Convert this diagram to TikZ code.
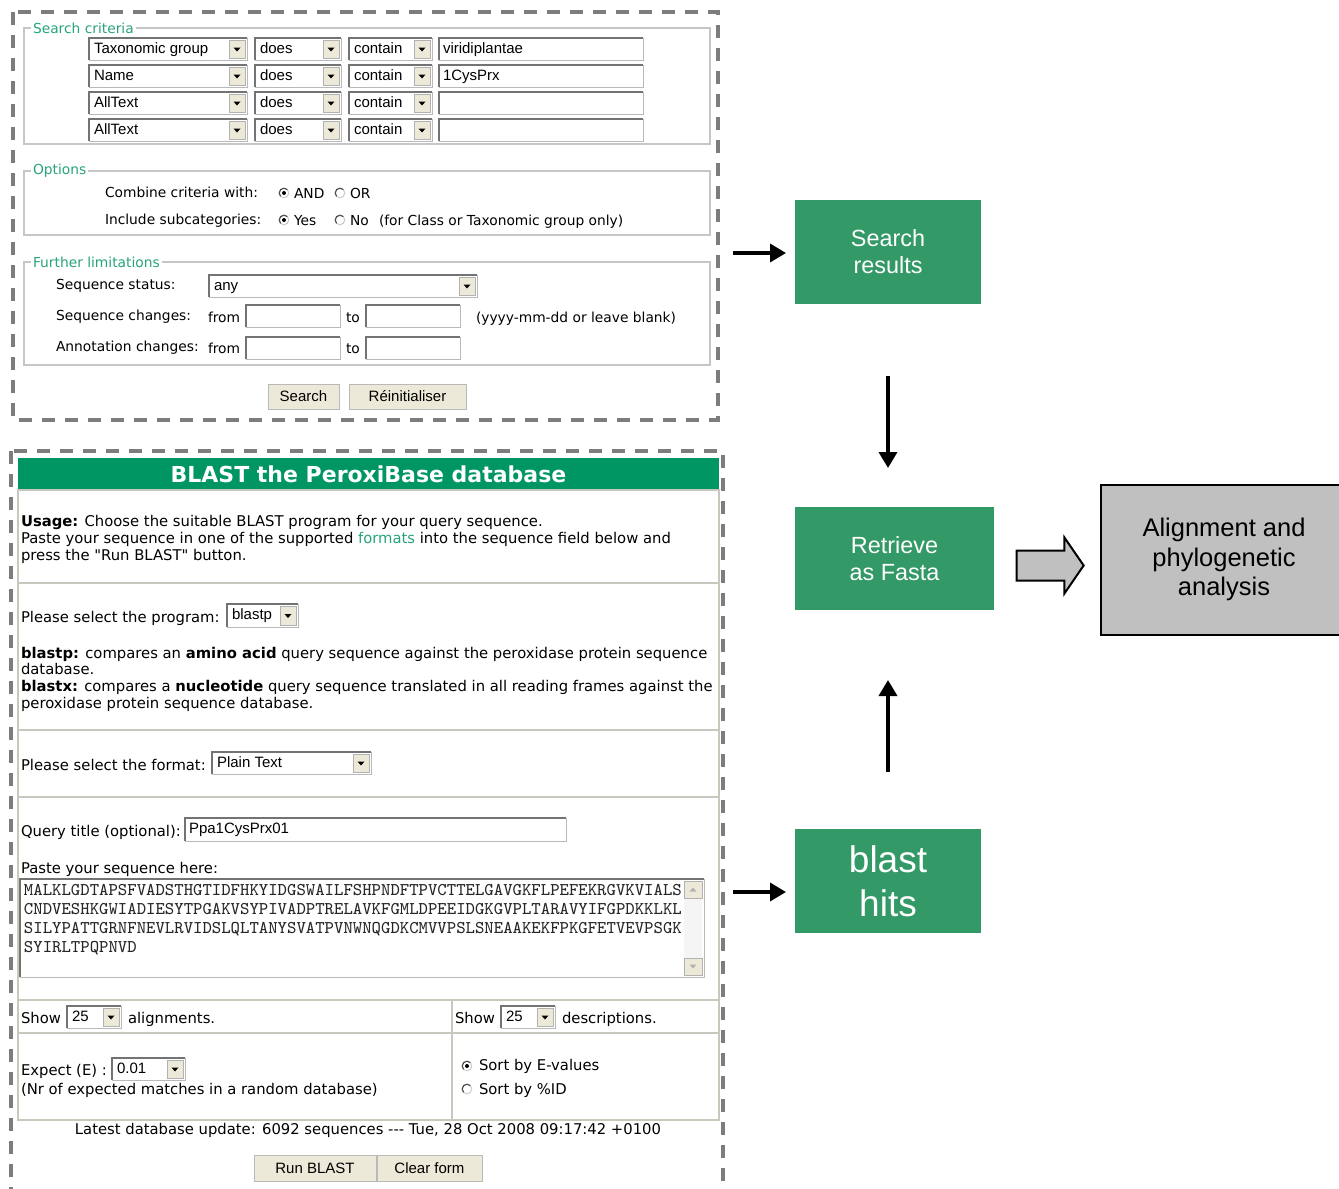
\documentclass[tikz,border=0pt]{standalone}
\usepackage{fontspec}
\setmainfont{Liberation Sans}
\newfontfamily\tahoma{DejaVu Sans}
\usetikzlibrary{arrows.meta,shapes.arrows}
\definecolor{boxgreen}{RGB}{51,153,102}
\definecolor{headgreen}{RGB}{0,150,100}
\definecolor{linkgreen}{RGB}{40,165,120}
\definecolor{dashgray}{RGB}{125,125,125}
\definecolor{framegray}{RGB}{200,200,190}
\definecolor{btnface}{RGB}{236,233,216}
\definecolor{alngray}{RGB}{192,192,192}

\begin{document}
\begin{tikzpicture}[x=0.5pt, y=-0.5pt,
    every node/.style={inner sep=0pt, outer sep=0pt},
    panel/.style={draw=dashgray, line width=2pt, dash pattern=on 6.5pt off 5pt},
    fieldset/.style={draw=gray!45, line width=0.7pt},
    legend/.style={anchor=west, fill=white, inner xsep=1pt, text=linkgreen, font=\tahoma\fontsize{6.9}{8}\selectfont},
    lbl/.style={anchor=west, text height=5.2pt, text depth=1.4pt, font=\tahoma\fontsize{6.9}{8}\selectfont},
    lblb/.style={lbl, text height=5.5pt, text depth=1.5pt, font=\tahoma\fontsize{7.4}{8.5}\selectfont},
    para/.style={anchor=north west, align=left},
    ddtext/.style={anchor=west, text height=5.5pt, text depth=1.5pt, font=\fontsize{7.5}{9}\selectfont},
    fieldbox/.style={draw=gray!55, fill=white, line width=0.5pt},
    inset/.style={draw=gray!90!black, line width=0.6pt},
    ddbtn/.style={draw=gray!60, fill=btnface, line width=0.5pt},
    formbtn/.style={draw=gray!55, fill=btnface, minimum height=12.5pt, font=\fontsize{7.5}{9}\selectfont},
    formline/.style={draw=framegray, line width=1pt},
    flowbox/.style={fill=boxgreen, text=white, align=center, font=\fontsize{11.7}{13.5}\selectfont},
    thickarr/.style={line width=1.8pt, -{Triangle[length=8pt,width=9pt]}},
  ]
  \useasboundingbox (0,0) rectangle (1339,1189);

  % query form
  \draw[panel] (13,12) rectangle (718,420);
  \draw[fieldset] (24,28) rectangle (710,144);
  \draw[fieldset] (24,171) rectangle (710,235);
  \draw[fieldset] (24,262) rectangle (710,365);
  \node[legend] (lgcrit) at (31,28) {Search criteria};
  \node[legend] (lgopt) at (31,171) {Options};
  \node[legend] (lglim) at (31,262) {Further limitations};

  % drop-down lists (both forms)
  \foreach \xa/\ya/\xb/\yb/\t [count=\k] in {89/38/247/60/Taxonomic group, 255/38/341/60/does, 349/38/432/60/contain,
      89/65/247/87/Name, 255/65/341/87/does, 349/65/432/87/contain,
      89/92/247/114/AllText, 255/92/341/114/does, 349/92/432/114/contain,
      89/119/247/141/AllText, 255/119/341/141/does, 349/119/432/141/contain,
      209/275/477/297/any, 227/604/298/627/blastp, 212/752/371/774/Plain Text,
      67/1006/121/1028/25, 501/1006/555/1028/25, 112/1058/185/1080/0.01} {
    \draw[fieldbox] (\xa,\ya) rectangle (\xb,\yb);
    \draw[inset] (\xa,\yb) -- (\xa,\ya) -- (\xb,\ya);
    \draw[ddbtn] (\xb-18,\ya+2) rectangle (\xb-2,\yb-2);
    \fill ({\xb-13.5},{(\ya+\yb)/2-1.5}) -- ++(7,0) -- ++(-3.5,4) -- cycle;
    \node[ddtext] (dd\k) at (\xa+5,{(\ya+\yb)/2}) {\t};
  }

  % text fields
  \foreach \xa/\ya/\xb/\yb/\t [count=\k] in {439/38/643/60/viridiplantae, 439/65/643/87/1CysPrx,
      439/92/643/114/{}, 439/119/643/141/{}, 246/305/340/327/{}, 366/305/460/327/{},
      246/337/340/359/{}, 366/337/460/359/{}, 185/818/566/841/Ppa1CysPrx01} {
    \draw[fieldbox] (\xa,\ya) rectangle (\xb,\yb);
    \draw[inset] (\xa,\yb) -- (\xa,\ya) -- (\xb,\ya);
    \node[ddtext] (tf\k) at (\xa+4,{(\ya+\yb)/2}) {\t};
  }

  % radio buttons
  \foreach \x/\y/\on in {284/193/1, 340/193/0, 284/220/1, 340/220/0, 467/1066/1, 467/1089/0} {
    \fill[white] (\x,\y) circle (2.4pt);
    \draw[gray!40, line width=0.5pt] (\x,\y) ++(-135:2.4pt) arc[start angle=-135, end angle=45, radius=2.4pt];
    \draw[gray!60!black, line width=0.6pt] (\x,\y) ++(45:2.4pt) arc[start angle=45, end angle=225, radius=2.4pt];
    \ifnum\on=1 \fill (\x,\y) circle (1pt); \fi
  }

  \foreach \x/\y/\t [count=\k] in {105/194/Combine criteria with:, 294/195/AND, 350/195/OR,
      105/221/Include subcategories:, 294/222/Yes, 350/222/No, 379/222/{(for Class or Taxonomic group only)},
      56/286/Sequence status:, 56/317/Sequence changes:, 208/319/from, 346/319/to,
      476/319/{(yyyy-mm-dd or leave blank)}, 56/348/Annotation changes:, 208/350/from, 346/350/to}
    \node[lbl] (lb\k) at (\x,\y) {\t};

  \node[formbtn, minimum width=35.5pt] (bsearch) at (303.5,396.5) {Search};
  \node[formbtn, minimum width=58.5pt] (breset) at (407.5,396.5) {Réinitialiser};

  % BLAST form
  \draw[panel] (11,451) rectangle (723,1196);
  \node[fill=headgreen, minimum width=350.5pt, minimum height=16pt, text=white,
    font=\tahoma\bfseries\fontsize{11}{13}\selectfont] (head) at (368.5,474) {BLAST the PeroxiBase database};
  \draw[formline] (18,490) rectangle (719,1120);
  \foreach \y in {583,730,797,1000,1033} \draw[formline] (18,\y) -- (719,\y);
  \draw[formline] (452,1000) -- (452,1120);

  \node[para, font=\tahoma\fontsize{7.4}{8.5}\selectfont] (usage) at (21,515)
    {\textbf{Usage:} Choose the suitable BLAST program for your query sequence.\\
     Paste your sequence in one of the supported \textcolor{linkgreen}{formats} into the sequence field below and\\
     press the "Run BLAST" button.};
  \node[para, font=\tahoma\fontsize{7.4}{8.35}\selectfont] (progs) at (21,647)
    {\textbf{blastp:} compares an \textbf{amino acid} query sequence against the peroxidase protein sequence\\
     database.\\
     \textbf{blastx:} compares a \textbf{nucleotide} query sequence translated in all reading frames against the\\
     peroxidase protein sequence database.};

  \foreach \x/\y/\t [count=\k] in {21/618/Please select the program:, 21/766/Please select the format:,
      21/832/Query title (optional):, 21/869/Paste your sequence here:, 21/1019/Show, 128/1019/alignments.,
      455/1019/Show, 562/1019/descriptions., 21/1071/Expect (E) :,
      21/1090/{(Nr of expected matches in a random database)}, 479/1066/Sort by E-values, 479/1090/Sort by \%ID}
    \node[lblb] (lbb\k) at (\x,\y) {\t};

  % sequence box
  \draw[fieldbox] (20,879) rectangle (704,977);
  \draw[inset] (20,977) -- (20,879) -- (704,879);
  \fill[gray!8] (684,881) rectangle (702,975);
  \draw[ddbtn] (684,881) rectangle (702,898);
  \draw[ddbtn] (684,958) rectangle (702,975);
  \fill[gray!60] (689.5,891.5) -- (696.5,891.5) -- (693,887.5) -- cycle;
  \fill[gray!60] (689.5,964.5) -- (696.5,964.5) -- (693,968.5) -- cycle;
  \foreach \y/\s [count=\k] in {891/MALKLGDTAPSFVADSTHGTIDFHKYIDGSWAILFSHPNDFTPVCTTELGAVGKFLPEFEKRGVKVIALS,
      910/CNDVESHKGWIADIESYTPGAKVSYPIVADPTRELAVKFGMLDPEEIDGKGVPLTARAVYIFGPDKKLKL,
      929/SILYPATTGRNFNEVLRVIDSLQLTANYSVATPVNWNQGDKCMVVPSLSNEAAKEKFPKGFETVEVPSGK,
      948/SYIRLTPQPNVD}
    \node[anchor=west, text height=5.5pt, text depth=1.5pt, text=black!85, font=\ttfamily\fontsize{8.95}{10}\selectfont] (seq\k) at (24,\y) {\s};

  \node[font=\tahoma\fontsize{7.4}{8.5}\selectfont] (update) at (368,1130)
    {Latest database update: 6092 sequences -\kern0pt-\kern0pt- Tue, 28 Oct 2008 09:17:42 +0100};
  \node[formbtn, minimum width=61pt, minimum height=13pt] (brun) at (315,1168) {Run BLAST};
  \node[formbtn, minimum width=52.5pt, minimum height=13pt] (bclear) at (429.5,1168) {Clear form};

  % work flow
  \node[flowbox, minimum width=93pt, minimum height=52pt] (srch) at (888,252) {Search\\results};
  \node[flowbox, minimum width=99.5pt, minimum height=51.5pt] (ret) at (894.5,558.5) {Retrieve\\as Fasta};
  \node[flowbox, minimum width=93pt, minimum height=52pt, font=\fontsize{18.5}{22}\selectfont] (hits) at (888,881) {blast\\hits};
  \node[draw=black, line width=1pt, fill=alngray, minimum width=123pt, minimum height=75pt, align=center,
    font=\fontsize{12.75}{14.75}\selectfont] (aln) at (1224,559.5) {Alignment and\\phylogenetic\\analysis};
  \node[single arrow, draw=black, fill=alngray, line width=1pt, minimum height=33.5pt, inner ysep=7pt,
    inner xsep=0pt, single arrow head extend=6.5pt, single arrow tip angle=111] (fat) at (1045,565.5) {};

  \coordinate (qout) at (733,253);
  \coordinate (bout) at (733,892);
  \draw[thickarr, shorten >=4.5pt] (qout) -- (qout -| srch.west);
  \draw[thickarr, shorten <=36pt, shorten >=19.5pt] (srch.south) -- (srch.south |- ret.north);
  \draw[thickarr, shorten <=28.5pt, shorten >=35pt] (hits.north) -- (hits.north |- ret.south);
  \draw[thickarr, shorten >=4.5pt] (bout) -- (bout -| hits.west);
\end{tikzpicture}
\end{document}
